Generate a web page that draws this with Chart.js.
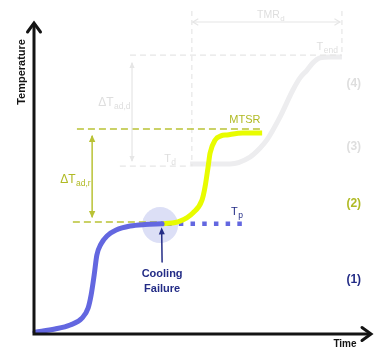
<!DOCTYPE html>
<html><head><meta charset="utf-8">
<script src="https://cdn.jsdelivr.net/npm/chart.js@4/dist/chart.umd.min.js"></script>
<style>html,body{margin:0;padding:0;background:#fff;}canvas{display:block}</style>
</head><body>
<canvas id="c" width="391" height="356"></canvas>
<script>
// ---- data (time / temperature in arbitrary units, 0..100) ----
const normalTime  = [0.3, 6.2, 10.7, 14.2, 16.0, 16.9, 17.8, 18.6, 19.8, 21.6, 24.3, 28.4, 32.8, 37.9];
const normalTemp  = [0.6, 1.6, 2.9, 5.1, 8.3, 12.5, 18.9, 25.3, 28.8, 31.4, 33.3, 34.6, 35.1, 35.3];
const runawayTime = [38.2, 43.2, 47.0, 49.7, 50.6, 51.5, 52.1, 53.6, 55.3, 57.1, 61.8, 67.5];
const runawayTemp = [35.3, 36.2, 38.8, 42.9, 47.1, 53.5, 58.0, 62.2, 63.5, 63.8, 64.4, 64.4];
const decompTime  = [46.2, 52.1, 58.0, 63.9, 66.9, 68.9, 72.8, 76.6, 78.7, 80.8, 82.5, 84.6, 87.6, 91.1];
const decompTemp  = [54.5, 54.5, 54.5, 56.7, 59.6, 62.2, 69.6, 78.2, 82.1, 84.6, 86.9, 88.5, 88.8, 88.8];

const levelTp = 35.3;      // process temperature
const levelTpRef = 35.9;   // lower reference line of ΔTad,r
const levelMTSR = 65.7;
const levelTd = 53.8;
const levelTend = 89.4;
const levelTop = 103.5;    // top of TMR marker lines
const tpDotsTime = [38.5, 63.6];
const mtsrLineTime = [12.7, 67.5];
const tpLineTime = [11.5, 38.5];
const tdLineTime = [25.4, 46.2];
const tendLineTime = [28.4, 91.1];
const tmrTime = [46.7, 91.1];
const failureTime = 37.3;
const failureTemp = 34.9;

const axisLabels = ['Time', 'Temperature'];
const phaseLabels = ['(1)', '(2)', '(3)', '(4)'];

// ---- colours ----
const BLUE = '#6367e0', YEL = '#e8fc00', GREY = '#ededef', GREYD = '#e6e6e6', GREYT = '#dedede';
const OLIVE = '#b9c235', OLIVET = '#b0ba24', NAVY = '#232c86';

const pts = (xs, ys) => xs.map((x, i) => ({x, y: ys[i]}));
const hline = (xs, y) => [{x: xs[0], y}, {x: xs[1], y}];
const vline = (x, y0, y1) => [{x, y: y0}, {x, y: y1}];

const base = {showLine: true, pointRadius: 0, fill: false, clip: false};

const datasets = [
  Object.assign({}, base, {data: pts(normalTime, normalTemp), borderColor: BLUE, borderWidth: 5, cubicInterpolationMode: 'monotone', borderCapStyle: 'round', order: 0}),
  Object.assign({}, base, {data: pts(runawayTime, runawayTemp), borderColor: YEL, borderWidth: 5, cubicInterpolationMode: 'monotone', borderCapStyle: 'butt', order: 1}),
  Object.assign({}, base, {data: hline(tpDotsTime, levelTp), borderColor: BLUE, borderWidth: 4.5, borderDash: [4.5, 7.2], borderDashOffset: -3, borderCapStyle: 'butt', order: 2}),
  Object.assign({}, base, {data: hline(mtsrLineTime, levelMTSR), borderColor: OLIVE, borderWidth: 1.6, borderDash: [7, 4], order: 3}),
  Object.assign({}, base, {data: hline(tpLineTime, levelTpRef), borderColor: OLIVE, borderWidth: 1.6, borderDash: [7, 4], order: 4}),
  Object.assign({}, base, {data: hline(tdLineTime, levelTd), borderColor: GREYD, borderWidth: 1.2, borderDash: [6, 4], order: 5}),
  Object.assign({}, base, {data: hline(tendLineTime, levelTend), borderColor: GREYD, borderWidth: 1.2, borderDash: [6, 4], order: 6}),
  Object.assign({}, base, {data: vline(tmrTime[0], levelTop, levelTd), borderColor: GREYD, borderWidth: 1.2, borderDash: [5, 4], order: 7}),
  Object.assign({}, base, {data: vline(tmrTime[1], levelTop, levelTend), borderColor: GREYD, borderWidth: 1.2, borderDash: [5, 4], order: 8}),
  Object.assign({}, base, {data: pts(decompTime, decompTemp), borderColor: GREY, borderWidth: 5, cubicInterpolationMode: 'monotone', borderCapStyle: 'butt', order: 9})
];

const FONT = '"Liberation Sans", Arial, sans-serif';

function head(ctx, x, y, ang, len, hw) {
  ctx.beginPath();
  ctx.moveTo(x, y);
  ctx.lineTo(x - len * Math.cos(ang) + hw * Math.sin(ang), y - len * Math.sin(ang) - hw * Math.cos(ang));
  ctx.lineTo(x - len * Math.cos(ang) - hw * Math.sin(ang), y - len * Math.sin(ang) + hw * Math.cos(ang));
  ctx.closePath();
  ctx.fill();
}
function subText(ctx, x, y, main, sub, size, subSize, color, align) {
  ctx.fillStyle = color;
  ctx.textBaseline = 'alphabetic';
  ctx.textAlign = 'left';
  ctx.font = size + 'px ' + FONT;
  const w1 = ctx.measureText(main).width;
  ctx.font = subSize + 'px ' + FONT;
  const w2 = ctx.measureText(sub).width;
  let x0 = x;
  if (align === 'right') x0 = x - w1 - w2;
  if (align === 'center') x0 = x - (w1 + w2) / 2;
  ctx.font = size + 'px ' + FONT;
  ctx.fillText(main, x0, y);
  ctx.font = subSize + 'px ' + FONT;
  ctx.fillText(sub, x0 + w1 + 0.5, y + 3);
}

const deco = {
  id: 'deco',
  beforeDatasetsDraw(chart) {
    const ctx = chart.ctx, X = chart.scales.x, Y = chart.scales.y;
    ctx.save();
    ctx.fillStyle = '#dcdff6';
    ctx.beginPath();
    ctx.arc(X.getPixelForValue(failureTime), Y.getPixelForValue(failureTemp), 18, 0, Math.PI * 2);
    ctx.fill();
    ctx.restore();
  },
  afterDatasetsDraw(chart) {
    const ctx = chart.ctx, X = chart.scales.x, Y = chart.scales.y;
    const px = v => X.getPixelForValue(v), py = v => Y.getPixelForValue(v);
    ctx.save();
    // axes
    const ox = px(0), oy = py(0), tx = px(100), ty = py(100);
    ctx.strokeStyle = '#141414';
    ctx.lineWidth = 3;
    ctx.lineCap = 'butt';
    ctx.beginPath();
    ctx.moveTo(ox, oy + 1.5); ctx.lineTo(ox, ty + 1);
    ctx.moveTo(ox - 1.5, oy); ctx.lineTo(tx - 1, oy);
    ctx.stroke();
    ctx.lineCap = 'round'; ctx.lineJoin = 'miter';
    ctx.beginPath();
    ctx.moveTo(ox - 6.5, ty + 10); ctx.lineTo(ox, ty + 1); ctx.lineTo(ox + 6.5, ty + 10);
    ctx.moveTo(tx - 10, oy - 6.5); ctx.lineTo(tx - 1, oy); ctx.lineTo(tx - 10, oy + 6.5);
    ctx.stroke();
    // axis titles
    ctx.fillStyle = '#141414';
    ctx.font = 'bold 10px ' + FONT;
    ctx.textAlign = 'center'; ctx.textBaseline = 'middle';
    ctx.fillText(axisLabels[0], px(92.0), oy + 10);
    ctx.save();
    ctx.translate(ox - 12, py(84));
    ctx.rotate(-Math.PI / 2);
    ctx.font = 'bold 11px ' + FONT;
    ctx.fillText(axisLabels[1], 0, 0);
    ctx.restore();

    // ΔTad,r arrow
    ctx.strokeStyle = OLIVE; ctx.fillStyle = OLIVE; ctx.lineWidth = 1.5;
    const ax = px(17.2);
    ctx.beginPath(); ctx.moveTo(ax, py(37.6)); ctx.lineTo(ax, py(63.4)); ctx.stroke();
    head(ctx, ax, py(63.8), -Math.PI / 2, 7, 3.2);
    head(ctx, ax, py(37.2), Math.PI / 2, 7, 3.2);
    subText(ctx, ax - 2, py(48.4), 'ΔT', 'ad,r', 12, 8.5, OLIVET, 'right');

    // ΔTad,d arrow
    ctx.strokeStyle = GREYD; ctx.fillStyle = GREYD; ctx.lineWidth = 1.2;
    const bx = px(29.0);
    ctx.beginPath(); ctx.moveTo(bx, py(55.6)); ctx.lineTo(bx, py(86.8)); ctx.stroke();
    head(ctx, bx, py(87.2), -Math.PI / 2, 6, 2.6);
    head(ctx, bx, py(55.1), Math.PI / 2, 6, 2.6);
    subText(ctx, bx - 2, py(73.1), 'ΔT', 'ad,d', 12, 8.5, GREYT, 'right');

    // TMRd arrow
    const ay = py(100);
    ctx.beginPath(); ctx.moveTo(px(47.0), ay); ctx.lineTo(px(90.5), ay); ctx.stroke();
    ctx.beginPath();
    ctx.moveTo(px(47.0) + 5, ay - 3); ctx.lineTo(px(47.0), ay); ctx.lineTo(px(47.0) + 5, ay + 3);
    ctx.moveTo(px(90.5) - 5, ay - 3); ctx.lineTo(px(90.5), ay); ctx.lineTo(px(90.5) - 5, ay + 3);
    ctx.stroke();
    subText(ctx, px(66.0), py(101.3), 'TMR', 'd', 10.5, 8, GREYT, 'left');
    subText(ctx, px(83.6), py(91.0), 'T', 'end', 11, 8.5, GREYT, 'left');
    subText(ctx, px(38.5), py(55.1), 'T', 'd', 11, 8.5, GREYT, 'left');

    // Tp & MTSR
    subText(ctx, px(58.3), py(38.1), 'T', 'p', 11, 8.5, NAVY, 'left');
    ctx.fillStyle = OLIVET; ctx.font = '11px ' + FONT;
    ctx.textAlign = 'center'; ctx.textBaseline = 'middle';
    ctx.fillText('MTSR', px(62.4), py(68.6));

    // Cooling failure arrow
    ctx.strokeStyle = NAVY; ctx.fillStyle = NAVY; ctx.lineWidth = 1.5;
    const cx = px(37.9);
    ctx.beginPath(); ctx.moveTo(cx, py(23.1)); ctx.lineTo(cx - 0.4, py(32.5)); ctx.stroke();
    head(ctx, cx - 0.5, py(34.2), -Math.PI / 2 - 0.03, 7, 3);
    ctx.font = 'bold 11px ' + FONT;
    ctx.textAlign = 'center'; ctx.textBaseline = 'middle';
    ctx.fillText('Cooling', px(37.9), py(19.2));
    ctx.fillText('Failure', px(37.9), py(14.4));

    // phases
    ctx.font = 'bold 12px ' + FONT;
    const phaseY = [17.3, 41.7, 59.9, 80.1];
    const phaseC = [NAVY, OLIVET, GREYT, GREYT];
    phaseLabels.forEach((t, i) => {
      ctx.fillStyle = phaseC[i];
      ctx.fillText(t, px(94.6), py(phaseY[i]));
    });
    ctx.restore();
  }
};

new Chart(document.getElementById('c'), {
  type: 'scatter',
  data: {datasets},
  options: {
    responsive: false,
    devicePixelRatio: 1,
    animation: false,
    layout: {padding: {left: 34, right: 19, top: 22, bottom: 22}},
    plugins: {legend: {display: false}, tooltip: {enabled: false}},
    scales: {
      x: {type: 'linear', min: 0, max: 100, display: false},
      y: {type: 'linear', min: 0, max: 100, display: false}
    }
  },
  plugins: [deco]
});
</script>
</body></html>
